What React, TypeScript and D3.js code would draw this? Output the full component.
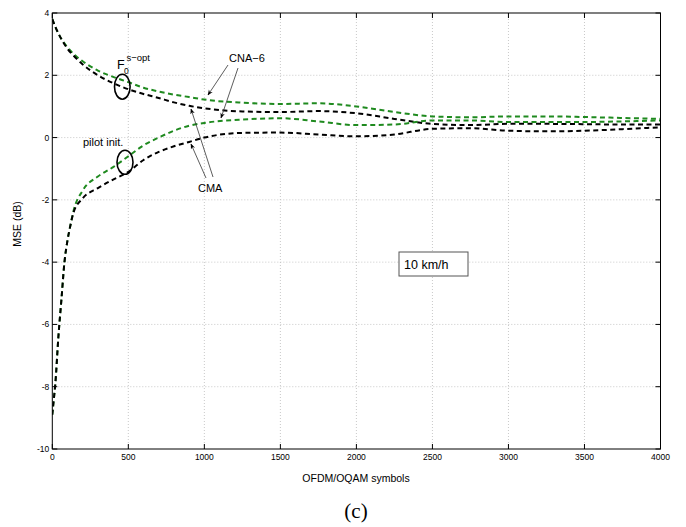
import React from "react";
import * as d3 from "d3";

const xTicks = [0, 500, 1000, 1500, 2000, 2500, 3000, 3500, 4000];
const yTicks = [-10, -8, -6, -4, -2, 0, 2, 4];

const xsUpper = [0, 25, 50, 100, 150, 200, 300, 400, 500, 600, 700, 800, 900, 1000, 1250, 1500, 1750, 2000, 2250, 2500, 2750, 3000, 3250, 3500, 3750, 4000];
const blackUpper = [3.8, 3.5, 3.25, 2.85, 2.58, 2.35, 2.0, 1.75, 1.55, 1.4, 1.27, 1.13, 1.02, 0.94, 0.84, 0.82, 0.85, 0.78, 0.6, 0.44, 0.4, 0.44, 0.44, 0.43, 0.42, 0.42];
const greenUpper = [3.8, 3.5, 3.25, 2.9, 2.64, 2.45, 2.15, 1.95, 1.78, 1.6, 1.48, 1.38, 1.3, 1.22, 1.12, 1.08, 1.1, 1.0, 0.82, 0.68, 0.65, 0.68, 0.68, 0.66, 0.63, 0.6];

const xsLower = [0, 10, 20, 40, 60, 80, 100, 120, 140, 200, 300, 400, 500, 600, 700, 800, 900, 1000, 1250, 1500, 1750, 2000, 2250, 2500, 2750, 3000, 3250, 3500, 3750, 4000];
const blackLower = [-8.9, -8.4, -7.9, -6.4, -5.2, -4.0, -3.3, -2.8, -2.4, -1.95, -1.62, -1.35, -1.1, -0.72, -0.46, -0.28, -0.14, 0.0, 0.15, 0.16, 0.1, 0.04, 0.1, 0.28, 0.3, 0.22, 0.2, 0.22, 0.27, 0.33];
const greenLower = [-8.9, -8.4, -7.9, -6.4, -5.2, -4.0, -3.3, -2.8, -2.35, -1.7, -1.25, -0.95, -0.6, -0.25, 0.0, 0.22, 0.38, 0.47, 0.58, 0.62, 0.52, 0.4, 0.42, 0.55, 0.55, 0.5, 0.5, 0.5, 0.52, 0.55];

const L = 52.3, R = 660.5, T = 13, B = 449;

export default function App() {
  const x = d3.scaleLinear().domain([0, 4000]).range([L, R]);
  const y = d3.scaleLinear().domain([-10, 4]).range([B, T]);
  const line = (xs: number[], ys: number[]) =>
    d3.line<number>().x((_, i) => x(xs[i])).y((d) => y(d)).curve(d3.curveMonotoneX)(ys) || "";
  const green = "#1f8a1f";
  const font = "'Liberation Sans', Arial, sans-serif";
  const series = [
    { xs: xsUpper, ys: greenUpper, c: green },
    { xs: xsUpper, ys: blackUpper, c: "#000" },
    { xs: xsLower, ys: greenLower, c: green },
    { xs: xsLower, ys: blackLower, c: "#000" },
  ];
  const arrows = [
    { x1: 228, y1: 65, x2: 208, y2: 95 },
    { x1: 238, y1: 68, x2: 221, y2: 118 },
    { x1: 213, y1: 177, x2: 191, y2: 109 },
    { x1: 206, y1: 178, x2: 191, y2: 144 },
  ];
  return (
    <svg width={686} height={527} style={{ position: "absolute", left: 0, top: 0, background: "#fff" }} fontFamily={font}>
      <defs>
        <marker id="ah" viewBox="0 0 10 10" refX="9" refY="5" markerWidth="7" markerHeight="7" orient="auto">
          <path d="M0,1 L10,5 L0,9 L3,5 Z" fill="#000" />
        </marker>
        <clipPath id="clip"><rect x={L} y={T} width={R - L} height={B - T} /></clipPath>
      </defs>
      <rect x={0} y={0} width={686} height={527} fill="#fff" />
      {xTicks.slice(1, -1).map((t) => (
        <line key={"gx" + t} x1={x(t)} x2={x(t)} y1={T} y2={B} stroke="#bbb" strokeWidth={0.8} strokeDasharray="1,2" />
      ))}
      {yTicks.slice(1, -1).map((t) => (
        <line key={"gy" + t} x1={L} x2={R} y1={y(t)} y2={y(t)} stroke="#bbb" strokeWidth={0.8} strokeDasharray="1,2" />
      ))}
      <g clipPath="url(#clip)">
        {series.map((s, i) => (
          <path key={i} d={line(s.xs, s.ys)} fill="none" stroke={s.c} strokeWidth={2} strokeDasharray="5,3.5" />
        ))}
      </g>
      <rect x={L} y={T} width={R - L} height={B - T} fill="none" stroke="#000" strokeWidth={1} />
      {xTicks.map((t) => (
        <g key={"tx" + t}>
          <line x1={x(t)} x2={x(t)} y1={B} y2={B - 5} stroke="#000" />
          <line x1={x(t)} x2={x(t)} y1={T} y2={T + 5} stroke="#000" />
          <text x={x(t)} y={B + 11} fontSize={8.5} textAnchor="middle">{t}</text>
        </g>
      ))}
      {yTicks.map((t) => (
        <g key={"ty" + t}>
          <line x1={L} x2={L + 5} y1={y(t)} y2={y(t)} stroke="#000" />
          <line x1={R} x2={R - 5} y1={y(t)} y2={y(t)} stroke="#000" />
          <text x={L - 3} y={y(t) + 3} fontSize={8.5} textAnchor="end">{t}</text>
        </g>
      ))}
      <text x={356} y={482} fontSize={10.5} textAnchor="middle">OFDM/OQAM symbols</text>
      <text transform="translate(21,224) rotate(-90)" fontSize={10.5} textAnchor="middle">MSE (dB)</text>
      <text x={356} y={518} fontSize={21} textAnchor="middle" fontFamily="'Liberation Serif', 'Times New Roman', serif">(c)</text>

      <rect x={399} y={252} width={69} height={24} fill="#fff" stroke="#555" strokeWidth={1} />
      <text x={404} y={269} fontSize={12.5}>10 km/h</text>

      <ellipse cx={122.3} cy={86.7} rx={7.8} ry={12.5} fill="none" stroke="#000" strokeWidth={1.6} />
      <ellipse cx={125} cy={162.3} rx={8} ry={12} fill="none" stroke="#000" strokeWidth={1.6} />
      <text x={117} y={68.5} fontSize={12.5}>F</text>
      <text x={126.5} y={61} fontSize={9.5}>s−opt</text>
      <text x={124} y={74} fontSize={8.5}>0</text>
      <text x={83} y={146} fontSize={11}>pilot init.</text>
      <text x={229} y={62} fontSize={11}>CNA−6</text>
      <text x={198} y={192} fontSize={11}>CMA</text>
      {arrows.map((a, i) => (
        <line key={"a" + i} x1={a.x1} y1={a.y1} x2={a.x2} y2={a.y2} stroke="#333" strokeWidth={0.8} markerEnd="url(#ah)" />
      ))}
    </svg>
  );
}
